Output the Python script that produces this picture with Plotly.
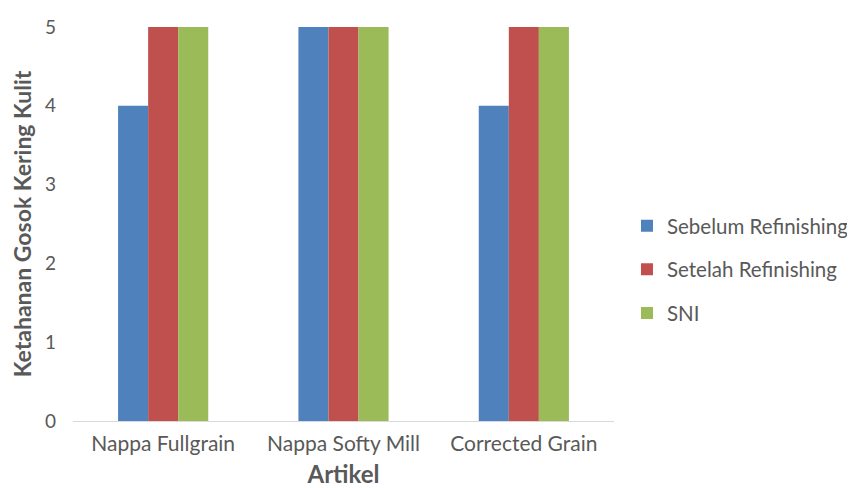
import plotly.graph_objects as go

categories = ["Nappa Fullgrain", "Nappa Softy Mill", "Corrected Grain"]
sebelum = [4, 5, 4]
setelah = [5, 5, 5]
sni = [5, 5, 5]
series_names = ["Sebelum Refinishing", "Setelah Refinishing", "SNI"]
colors = ["#4F81BD", "#C0504D", "#9BBB59"]

font_family = "Lato, Open Sans, sans-serif"

fig = go.Figure()
for i, (name, vals) in enumerate(zip(series_names, [sebelum, setelah, sni])):
    fig.add_trace(go.Bar(
        x=categories, y=vals, name=name, marker_color=colors[i],
        marker_line_width=0, legendgroup=name,
    ))

fig.update_layout(
    width=847, height=480,
    margin=dict(l=65, r=241, t=19, b=67, autoexpand=False),
    paper_bgcolor="white", plot_bgcolor="white",
    barmode="group", bargap=0.5, bargroupgap=0,
    font=dict(family=font_family, color="#595959", size=19),
    legend=dict(
        x=1.024, y=0.385, xanchor="left", yanchor="middle",
        font=dict(size=20.5, color="#595959"),
        tracegroupgap=14, itemwidth=30,
    ),
    xaxis=dict(
        showline=True, linecolor="#D9D9D9", linewidth=1,
        ticks="", tickfont=dict(size=21, color="#595959"),
        ticklabelstandoff=4, automargin=False,
        title=dict(text="<b>Artikel</b>", font=dict(size=24, color="#595959"), standoff=16),
    ),
    yaxis=dict(
        range=[0, 5], dtick=1, showgrid=False, zeroline=False, showline=False,
        tickfont=dict(size=19, color="#595959"), ticks="",
        ticklabelstandoff=16, automargin=False,
        title=dict(text="<b>Ketahanan Gosok Kering Kulit</b>", font=dict(size=23, color="#595959"), standoff=6),
    ),
)

fig.write_html("out.html")
